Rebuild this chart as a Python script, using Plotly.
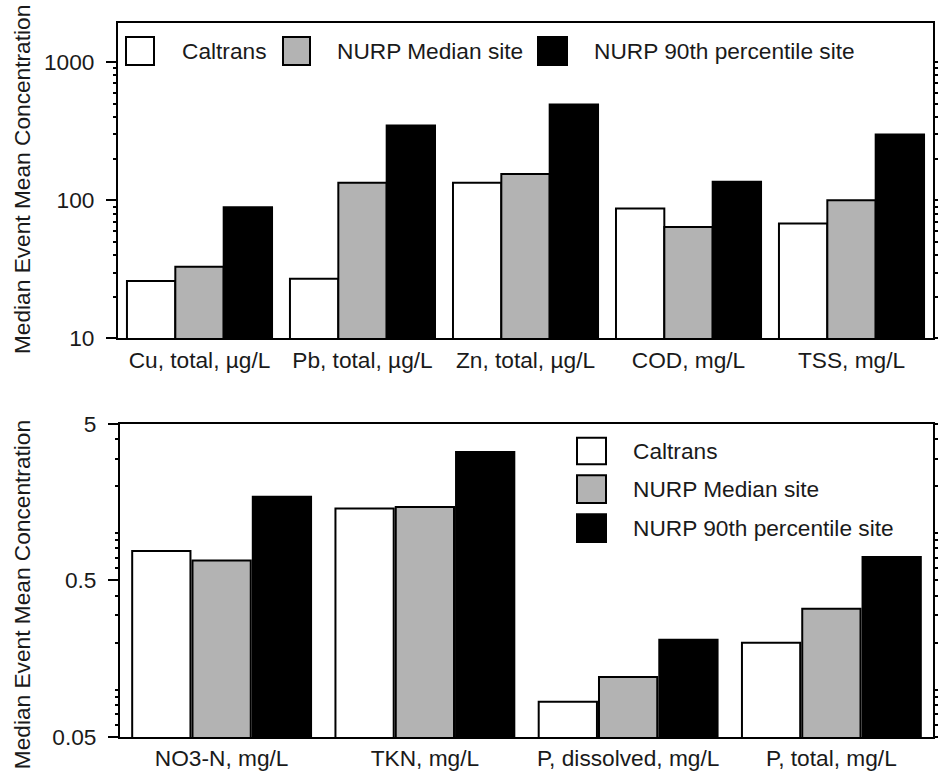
import plotly.graph_objects as go
import math

# ---- data ----
top_categories = ["Cu, total, µg/L", "Pb, total, µg/L", "Zn, total, µg/L", "COD, mg/L", "TSS, mg/L"]
top_caltrans = [26, 27, 134, 87, 68]
top_nurp_median = [33, 134, 155, 64, 100]
top_nurp_90 = [89, 348, 493, 136, 299]

bot_categories = ["NO3-N, mg/L", "TKN, mg/L", "P, dissolved, mg/L", "P, total, mg/L"]
bot_caltrans = [0.77, 1.44, 0.084, 0.200]
bot_nurp_median = [0.67, 1.47, 0.121, 0.330]
bot_nurp_90 = [1.71, 3.31, 0.209, 0.706]

series_names = ["Caltrans", "NURP Median site", "NURP 90th percentile site"]
series_colors = ["#ffffff", "#b3b3b3", "#000000"]

top_tickvals = [10, 100, 1000]
top_ticktext = ["10", "100", "1000"]
top_minor = [20, 30, 40, 50, 60, 70, 80, 90, 200, 300, 400, 500, 600, 700, 800, 900]
bot_tickvals = [0.05, 0.5, 5]
bot_ticktext = ["0.05", "0.5", "5"]
bot_minor = [0.06, 0.07, 0.08, 0.09, 0.1, 0.2, 0.3, 0.4, 0.6, 0.7, 0.8, 0.9, 1, 2, 3, 4]

y_title = "Median Event Mean Concentration"

FONT = "Liberation Sans, Arial, sans-serif"
FS = 22.7
TXT = "#1a1a1a"
W, H = 938, 774
L, R, T, B = 118, 5, 23, 37.3
PW, PH = W - L - R, H - T - B


def px2x(px):
    return (px - L) / PW


def px2y(py):
    return (H - B - py) / PH


fig = go.Figure()
for vals, name, col in zip([top_caltrans, top_nurp_median, top_nurp_90], series_names, series_colors):
    fig.add_trace(go.Bar(x=top_categories, y=vals, name=name, marker=dict(color=col, line=dict(color="black", width=2)),
                         xaxis="x", yaxis="y", showlegend=False))
for vals, name, col in zip([bot_caltrans, bot_nurp_median, bot_nurp_90], series_names, series_colors):
    fig.add_trace(go.Bar(x=bot_categories, y=vals, name=name, width=0.86 / 3,
                         marker=dict(color=col, line=dict(color="black", width=2)),
                         xaxis="x2", yaxis="y2", showlegend=False))

# invisible helper traces so the minor-tick overlay axes get drawn
fig.add_trace(go.Scatter(x=[top_categories[0]], y=[top_minor[0]], xaxis="x", yaxis="y3", mode="markers",
                         marker=dict(opacity=0), hoverinfo="skip", showlegend=False))
fig.add_trace(go.Scatter(x=[bot_categories[0]], y=[bot_minor[0]], xaxis="x2", yaxis="y4", mode="markers",
                         marker=dict(opacity=0), hoverinfo="skip", showlegend=False))

axis_common = dict(showline=True, linecolor="black", linewidth=2, mirror="allticks", showgrid=False, zeroline=False,
                   automargin=False, tickfont=dict(family=FONT, size=FS, color=TXT))

top_dom = [px2y(338.3), 1.0]
bot_dom = [0.0, px2y(423.7)]
top_range = [1, 3.2826]
bot_range = [math.log10(0.05), math.log10(5)]

minor_common = dict(type="log", showgrid=False, zeroline=False, showticklabels=False, showline=False,
                    ticks="outside", ticklen=4, tickwidth=1.5, tickcolor="black", mirror="allticks",
                    automargin=False, tickmode="array")

fig.update_layout(
    width=W, height=H,
    margin=dict(l=L, r=R, t=T, b=B, autoexpand=False),
    paper_bgcolor="white", plot_bgcolor="white",
    barmode="group", bargap=0.11, bargroupgap=0,
    xaxis=dict(domain=[0, 1], anchor="y", ticks="", ticklabelstandoff=0, **axis_common),
    yaxis=dict(domain=top_dom, anchor="x", type="log", range=top_range,
               tickmode="array", tickvals=top_tickvals, ticktext=top_ticktext,
               ticks="outside", ticklen=10, tickwidth=2, tickcolor="black", ticklabelstandoff=7, **axis_common),
    xaxis2=dict(domain=[px2x(120), 1], anchor="y2", ticks="", ticklabelstandoff=0, **axis_common),
    yaxis2=dict(domain=bot_dom, anchor="x2", type="log", range=bot_range,
                tickmode="array", tickvals=bot_tickvals, ticktext=bot_ticktext,
                ticks="outside", ticklen=10, tickwidth=2, tickcolor="black", ticklabelstandoff=7, **axis_common),
    yaxis3=dict(domain=top_dom, anchor="x", overlaying="y", range=top_range, tickvals=top_minor, **minor_common),
    yaxis4=dict(domain=bot_dom, anchor="x2", overlaying="y2", range=bot_range, tickvals=bot_minor, **minor_common),
)

# y titles
for cy in [180, 595]:
    fig.add_annotation(text=y_title, xref="paper", yref="paper", x=px2x(22), y=px2y(cy),
                       xanchor="center", yanchor="middle", textangle=-90, showarrow=False,
                       font=dict(family=FONT, size=FS, color=TXT))

# legends (drawn as boxes + labels)
shapes = []
top_leg = [(126, 154, 180), (283, 310, 335), (538, 567, 592)]
for (x0, x1, tx), name, col in zip(top_leg, series_names, series_colors):
    shapes.append(dict(type="rect", xref="paper", yref="paper", x0=px2x(x0), x1=px2x(x1), y0=px2y(65), y1=px2y(37),
                       fillcolor=col, line=dict(color="black", width=2)))
    fig.add_annotation(text=name, xref="paper", yref="paper", x=px2x(tx), y=px2y(51), xanchor="left", yanchor="middle",
                       showarrow=False, font=dict(family=FONT, size=FS, color=TXT))
bot_leg = [(437.7, 464, 451), (475, 502.7, 489), (514, 541.7, 528)]
for (y0, y1, ty), name, col in zip(bot_leg, series_names, series_colors):
    shapes.append(dict(type="rect", xref="paper", yref="paper", x0=px2x(577), x1=px2x(606), y0=px2y(y1), y1=px2y(y0),
                       fillcolor=col, line=dict(color="black", width=2)))
    fig.add_annotation(text=name, xref="paper", yref="paper", x=px2x(631), y=px2y(ty), xanchor="left", yanchor="middle",
                       showarrow=False, font=dict(family=FONT, size=FS, color=TXT))
fig.update_layout(shapes=shapes)

fig.write_html("out.html", config={"displayModeBar": False},
               post_script="document.body.style.margin='0px';document.body.style.overflow='hidden';")
